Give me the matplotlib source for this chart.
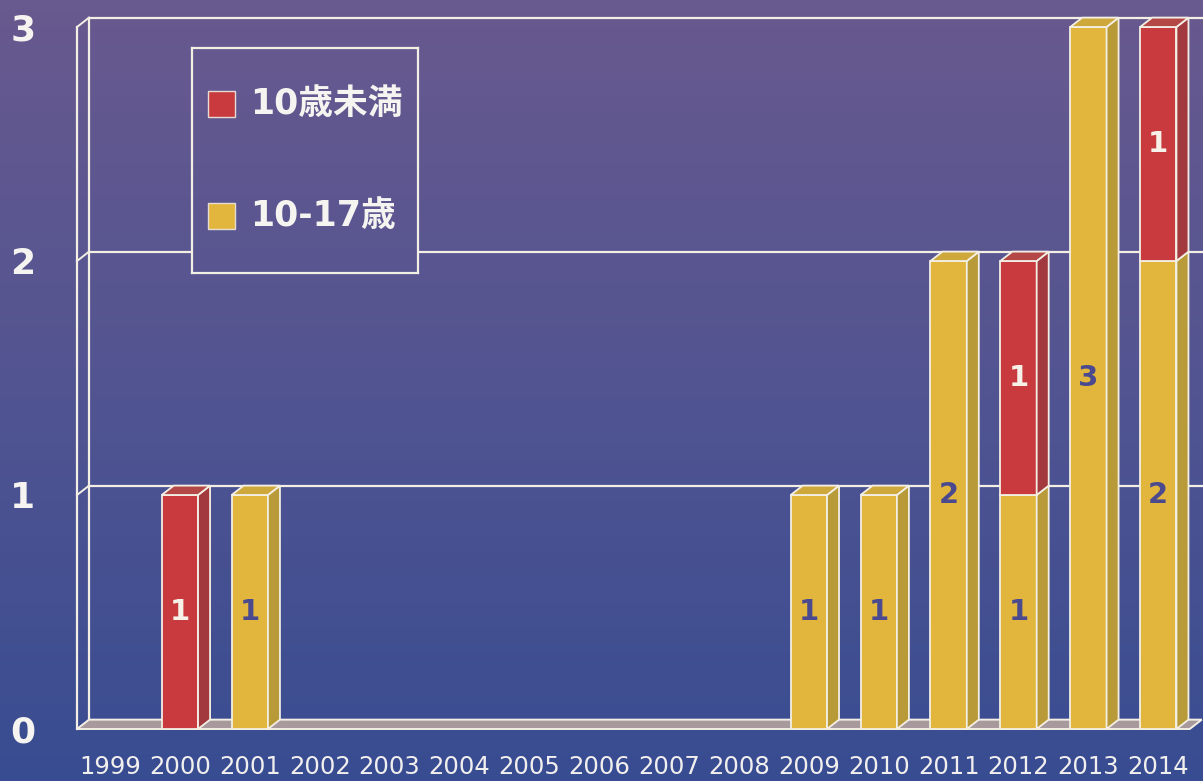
import numpy as np
import matplotlib.pyplot as plt
from matplotlib.patches import Polygon, Rectangle

# data
years = ['1999', '2000', '2001', '2002', '2003', '2004', '2005', '2006',
         '2007', '2008', '2009', '2010', '2011', '2012', '2013', '2014']
age_10_17 = [0, 0, 1, 0, 0, 0, 0, 0, 0, 0, 1, 1, 2, 1, 3, 2]   # bottom segment
under_10 = [0, 1, 0, 0, 0, 0, 0, 0, 0, 0, 0, 0, 0, 1, 0, 1]    # top segment
series_names = ['10歳未満', '10-17歳']
y_ticks = [0, 1, 2, 3]

# styling
RED = ('#c93a3e', '#a2393f', '#b34846')      # front, side, top
YEL = ('#e2b63c', '#b99a38', '#cfa83c')
EDGE = '#f3efe4'
W = 0.52
DX, DY = 0.172, 0.04         # depth offset in data units
XL, XR = -0.472, 15.64

fig = plt.figure(figsize=(12.03, 7.81), dpi=100)

# gradient background
top_c = np.array([0.41, 0.35, 0.56])
mid_c = np.array([0.32, 0.33, 0.57])
bot_c = np.array([0.22, 0.30, 0.57])
t = np.linspace(0, 1, 400)[:, None]
grad = np.where(t < 0.5, top_c + (mid_c - top_c) * (t / 0.5),
                mid_c + (bot_c - mid_c) * ((t - 0.5) / 0.5))
grad = grad[:, None, :]

bg = fig.add_axes([0, 0, 1, 1], zorder=0)
bg.imshow(grad, extent=(0, 1, 0, 1), aspect='auto', origin='upper')
bg.set_xlim(0, 1)
bg.set_ylim(0, 1)
bg.axis('off')

ax = fig.add_axes([77 / 1203, 52 / 781, 1 - 77 / 1203, 702 / 781], zorder=1)
ax.set_facecolor('none')
ax.set_xlim(XL, XR)
ax.set_ylim(0, 3)
for s in ax.spines.values():
    s.set_visible(False)

# back wall gridlines + left side wall
for v in y_ticks[1:]:
    ax.plot([XL + DX, XR + DX], [v + DY, v + DY], color=EDGE, lw=1.6,
            zorder=2, clip_on=False)
    ax.plot([XL, XL + DX], [v, v + DY], color=EDGE, lw=1.4, zorder=2,
            clip_on=False)
ax.plot([XL, XL], [0, 3], color=EDGE, lw=1.6, zorder=2, clip_on=False)
ax.plot([XL + DX, XL + DX], [DY, 3 + DY], color=EDGE, lw=1.6, zorder=2,
        clip_on=False)

# floor
xf = 15.45
ax.add_patch(Polygon([(XL, 0), (xf, 0), (xf + DX, DY), (XL + DX, DY)],
                     closed=True, facecolor='#a89a9c', edgecolor=EDGE,
                     lw=1.4, zorder=2.5, clip_on=False))

idx = np.arange(len(years))


def box(x, b, h, cols, top):
    ax.bar(x, h, bottom=b, width=W, color=cols[0], edgecolor=EDGE,
           lw=1.3, zorder=4, clip_on=False)
    r = x + W / 2
    ax.add_patch(Polygon([(r, b), (r + DX, b + DY), (r + DX, b + h + DY),
                          (r, b + h)], closed=True, facecolor=cols[1],
                         edgecolor=EDGE, lw=1.3, zorder=4, clip_on=False))
    if top:
        l = x - W / 2
        ax.add_patch(Polygon([(l, b + h), (r, b + h), (r + DX, b + h + DY),
                              (l + DX, b + h + DY)], closed=True,
                             facecolor=cols[2], edgecolor=EDGE, lw=1.3,
                             zorder=4, clip_on=False))


for i in idx:
    lo, hi = age_10_17[i], under_10[i]
    if lo:
        box(i, 0, lo, YEL, hi == 0)
        ax.text(i, lo / 2, str(lo), ha='center', va='center', fontsize=21,
                fontweight='bold', color='#4b4a8e', zorder=5)
    if hi:
        box(i, lo, hi, RED, True)
        ax.text(i, lo + hi / 2, str(hi), ha='center', va='center',
                fontsize=21, fontweight='bold', color='#f6f2ea', zorder=5)

ax.set_xticks(idx)
ax.set_xticklabels(years, fontsize=17.5, color='#f2f0ee')
ax.set_yticks(y_ticks)
ax.set_yticklabels([str(v) for v in y_ticks], fontsize=26, fontweight='bold',
                   color='#f6f4f0')
ax.tick_params(axis='x', length=0, pad=19)
ax.tick_params(axis='y', length=0, pad=30)

# legend box
lx0, lx1 = 192 / 1203, 418 / 1203
ly0, ly1 = (781 - 273) / 781, (781 - 48) / 781
lg = fig.add_axes([lx0, ly0, lx1 - lx0, ly1 - ly0], zorder=3)
lg.imshow(grad, extent=(0, 1, 0, 1), aspect='auto', origin='upper')
lg.set_xlim(lx0, lx1)
lg.set_ylim(ly0, ly1)
lg.set_xticks([])
lg.set_yticks([])
for s in lg.spines.values():
    s.set_color(EDGE)
    s.set_linewidth(1.6)

fam = ['DejaVu Sans', 'Noto Sans CJK JP']
for name, col, ypx in zip(series_names, [RED[0], YEL[0]], [104, 216]):
    yc = (781 - ypx) / 781
    lg.add_patch(Rectangle((208 / 1203, yc - 13 / 781), 27 / 1203, 26 / 781,
                           facecolor=col, edgecolor='#e6dcd4', lw=1))
    lg.text(250 / 1203, yc, name, ha='left', va='center', fontsize=25,
            fontweight='bold', color='#f6f4f0', family=fam)

fig.savefig('out.png', dpi=100)
